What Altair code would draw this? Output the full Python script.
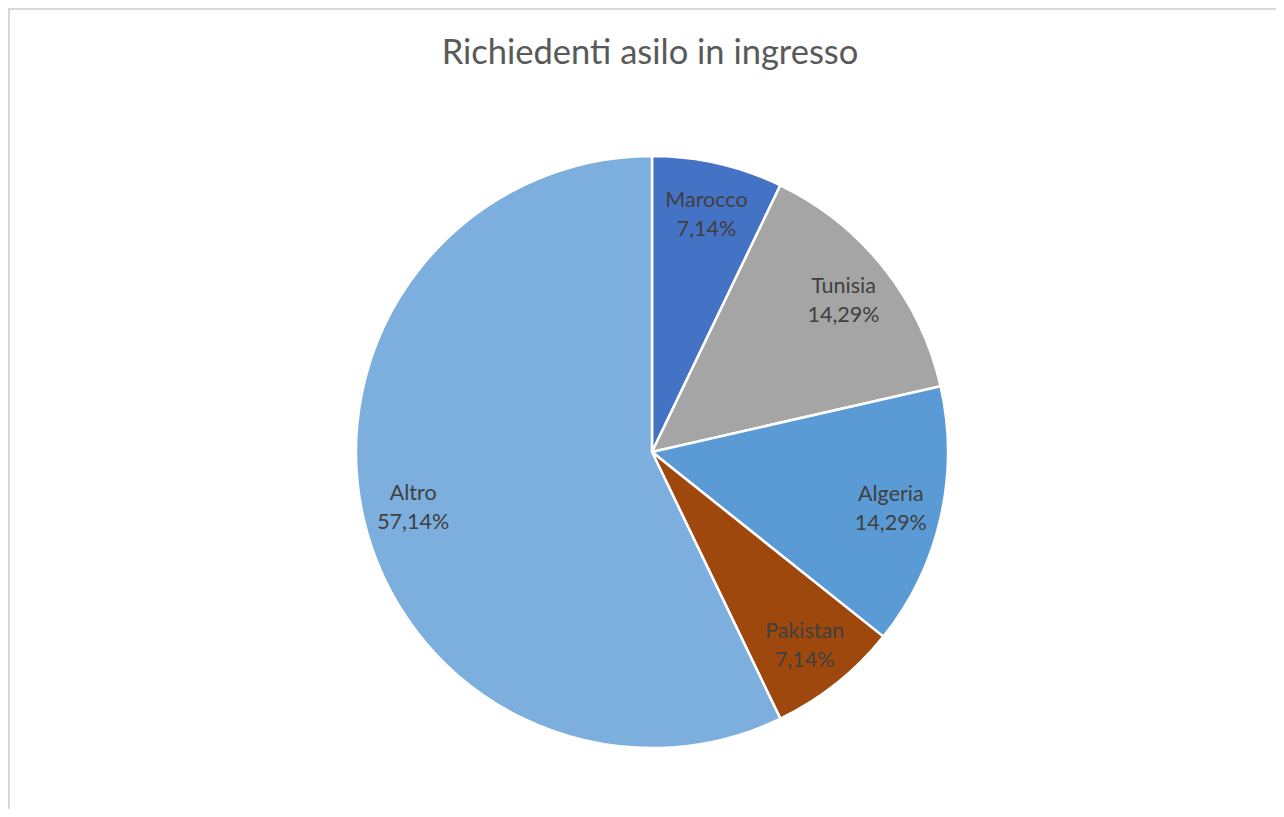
import altair as alt
import pandas as pd

categories = ["Marocco", "Tunisia", "Algeria", "Pakistan", "Altro"]
percent = [7.14, 14.29, 14.29, 7.14, 57.14]
colors = ["#4472C4", "#A5A5A5", "#5B9BD5", "#9E480E", "#7CAFDD"]
title_text = "Richiedenti asilo in ingresso"

df = pd.DataFrame({
    "categoria": categories,
    "valore": percent,
    "ordine": list(range(len(categories))),
    "etichetta": [f"{c}\n{p:.2f}%".replace(".", ",") for c, p in zip(categories, percent)],
})

W, H = 1268, 801
CX, CY = 644, 444
R = 296

base = alt.Chart(df).encode(
    theta=alt.Theta("valore:Q", stack=True),
    order=alt.Order("ordine:Q"),
)

pie = base.mark_arc(outerRadius=R, stroke="white", strokeWidth=2.5).encode(
    color=alt.Color("categoria:N", scale=alt.Scale(domain=categories, range=colors), legend=None),
    x=alt.value(CX),
    y=alt.value(CY),
)

labels = base.mark_text(
    radius=245, font="Lato", fontSize=21.5, color="#404040",
    lineBreak="\n", lineHeight=29, align="center", baseline="middle", dy=-12,
).encode(
    text="etichetta:N",
    x=alt.value(CX),
    y=alt.value(CY),
)

title_df = pd.DataFrame({"t": [title_text]})
title = alt.Chart(title_df).mark_text(
    font="Lato", fontSize=34.5, color="#595959",
    align="center", baseline="alphabetic"
).encode(text="t:N", x=alt.value(CX - 2), y=alt.value(56))

border_df = pd.DataFrame({"a": [0]})
left_border = alt.Chart(border_df).mark_rule(color="#d9d9d9", strokeWidth=2).encode(
    x=alt.value(1), y=alt.value(0), y2=alt.value(H)
)
top_border = alt.Chart(border_df).mark_rule(color="#d9d9d9", strokeWidth=2).encode(
    y=alt.value(1), x=alt.value(0), x2=alt.value(W)
)

chart = alt.layer(left_border, top_border, pie, labels, title).properties(
    width=W, height=H, padding=0, autosize=alt.AutoSizeParams(type="none")
).configure_view(stroke=None).configure(background="white")

chart.save("out.html", embed_options={"renderer": "svg", "actions": False})
